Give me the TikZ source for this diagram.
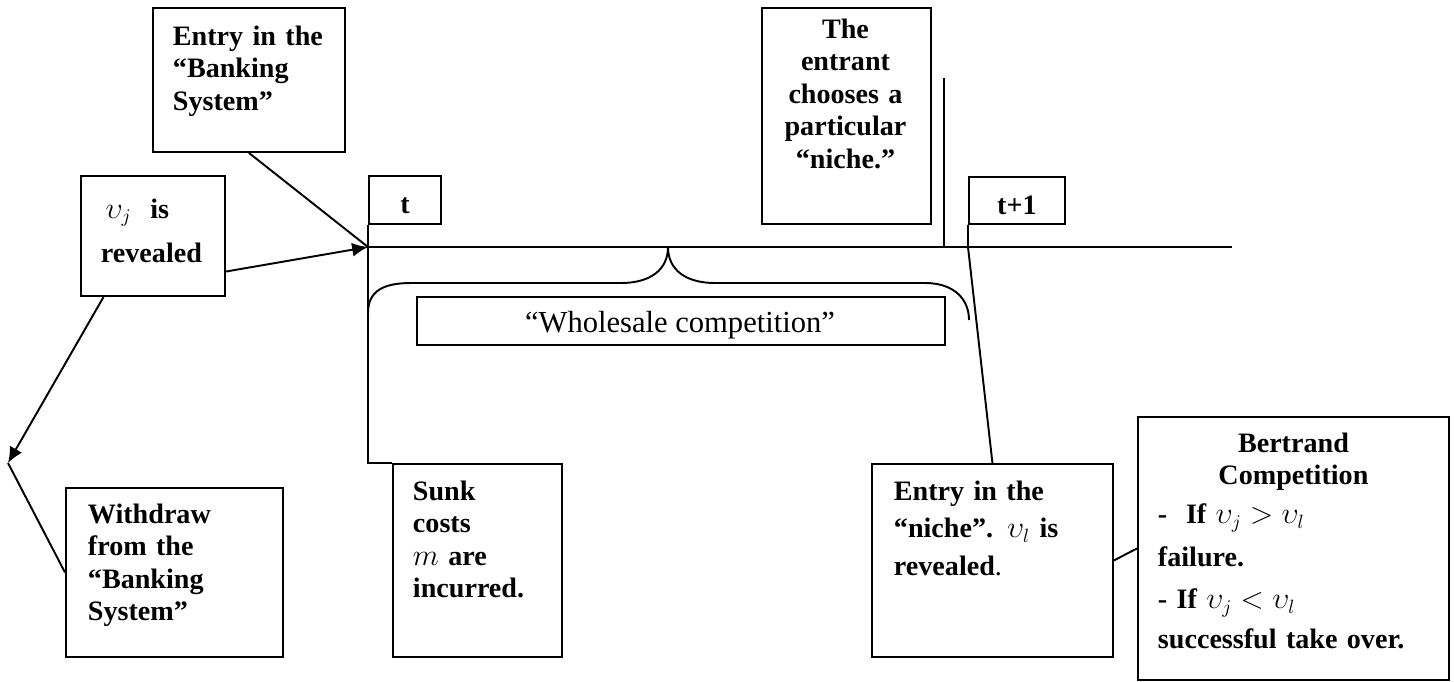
\documentclass[tikz,border=0pt]{standalone}
\usepackage{amsmath}
\usepackage{fontspec}
\setmainfont{Liberation Serif}
\usetikzlibrary{arrows.meta,positioning,calc}

\begin{document}
\begin{tikzpicture}[x=0.02cm, y=-0.02cm, line width=1.1pt, >={Latex[length=9pt,width=8pt]}]
\tikzstyle{every node}=[font=\fontsize{16}{18.5}\selectfont\bfseries]
\tikzstyle{box}=[draw, rectangle, inner sep=0pt, anchor=north west]
\tikzstyle{txt}=[inner sep=0pt, anchor=base west, align=left]
\useasboundingbox (0,0) rectangle (1454,681);

% boxes
\node[box, minimum width=3.84cm, minimum height=2.88cm] (EB) at (152,7) {};
\node[box, minimum width=2.88cm, minimum height=2.4cm]  (VJ) at (80,175) {};
\node[box, minimum width=1.44cm, minimum height=0.96cm, text height=0.55cm] (TB) at (368,175) {t};
\node[box, minimum width=3.38cm, minimum height=4.32cm] (TE) at (761,7) {};
\node[box, minimum width=1.92cm, minimum height=0.94cm, text height=0.55cm] (T1) at (968,176) {t+1};
\node[box, minimum width=10.56cm, minimum height=0.96cm] (WC) at (416,296) {};
\node[box, minimum width=4.34cm, minimum height=3.38cm] (WD) at (65,487) {};
\node[box, minimum width=3.38cm, minimum height=3.86cm] (SK) at (392,463) {};
\node[box, minimum width=4.82cm, minimum height=3.86cm] (EN) at (871,463) {};
\node[box, minimum width=6.22cm, minimum height=5.26cm] (BC) at (1137,416) {};

% texts
\node[txt, text width=3.5cm] (EBt) at (172,45) {Entry in the\\“Banking\\System”};
\node[txt, text width=2.6cm] (VJt) at (100,218) {\,$\upsilon_j$\ \ is\\[0.23cm]revealed};
\node[txt, text width=3.38cm, align=center, anchor=base] (TEt) at (845.5,38) {The\\entrant\\chooses a\\particular\\“niche.”};
\node[inner sep=0pt, anchor=base, font=\fontsize{17.4}{20}\selectfont] (WCt) at (680,332) {“Wholesale competition”};
\node[txt, text width=4cm] (WDt) at (87,523) {Withdraw\\from the\\“Banking\\System”};
\node[txt, text width=3cm] (SKt) at (412,500) {Sunk\\costs\\$m$ are\\incurred.};
\node[txt, text width=4.4cm] (ENt) at (893,500) {Entry in the\\[0.1cm]“niche”. $\upsilon_l$ is\\[0.1cm]revealed{\mdseries.}};
\node[txt, text width=5.42cm] (BCt) at (1157,452) {\makebox[\linewidth]{Bertrand}\\\makebox[\linewidth]{Competition}\\[0.13cm]-\ \ If $\upsilon_j > \upsilon_l$\\[0.21cm]failure.\\[0.19cm]- If $\upsilon_j < \upsilon_l$\\[0.15cm]successful take over.};

% time line
\coordinate (A) at (368,247);
\coordinate (B) at (1232,247);
\coordinate (K) at (8,463);
\coordinate (N1) at (944,78);
\coordinate (N2) at (944,247);
\coordinate (S1) at (968,247);

\draw (A) -- (B);
\draw (EB.south) -- (A);
\draw[->] (VJ.-26.57) -- (A);
\draw[->] (VJ.231.34) -- (K);
\draw (K) -- (WD.west);
\draw (TB.south west) |- (SK.north west);
\draw (N1) -- (N2);
\draw (T1.south west) -- (S1) -- (EN.north);
\draw (EN.east) -- (BC.west);

% brace
\draw (368,313) .. controls (368,290) and (385,283) .. (411,283) -- (621,283)
  .. controls (650,283) and (668,270) .. (668,247)
  .. controls (668,270) and (686,283) .. (715,283) -- (925,283)
  .. controls (955,283) and (969,300) .. (969,320);
\end{tikzpicture}
\end{document}
